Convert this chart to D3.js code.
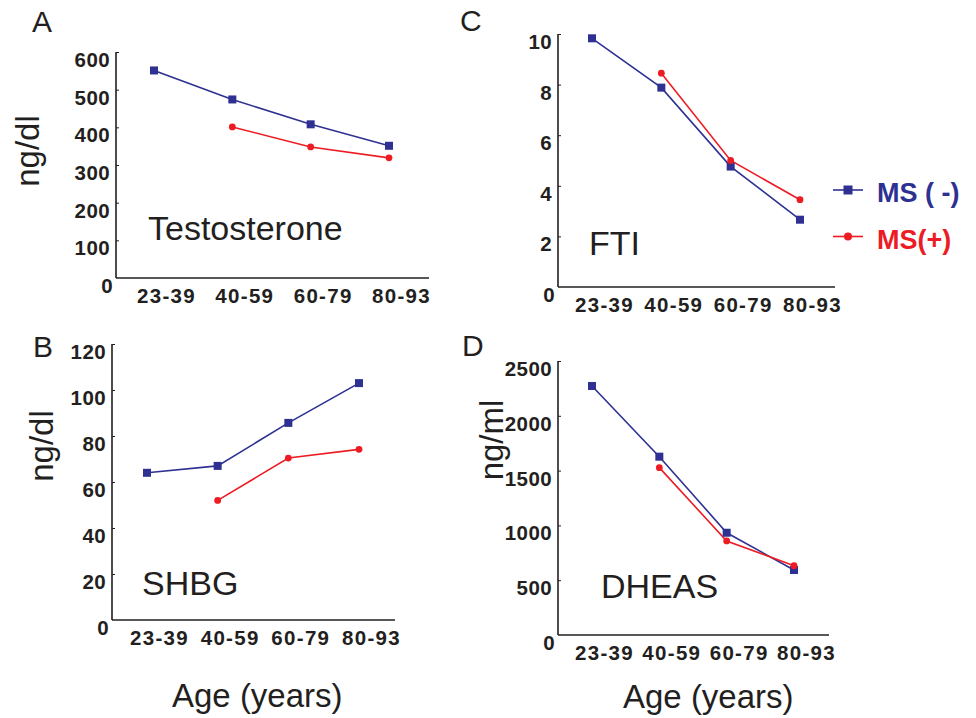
<!DOCTYPE html>
<html>
<head>
<meta charset="utf-8">
<script src="https://cdn.jsdelivr.net/npm/d3@7"></script>
<style>
  html, body { margin: 0; padding: 0; background: #ffffff; }
  svg { display: block; font-family: "Liberation Sans", Arial, Helvetica, sans-serif; }
</style>
</head>
<body>
<svg id="chart" width="976" height="718"></svg>
<script>
// ---- Data ----
const ageGroups = ["23-39", "40-59", "60-79", "80-93"];
const seriesNames = ["MS ( -)", "MS(+)"];

const testosteroneMSneg = [551, 474, 408, 351];
const testosteroneMSpos = [null, 401, 348, 319];
const testosteroneTicks = [0, 100, 200, 300, 400, 500, 600];

const shbgMSneg = [64, 67, 85.7, 103];
const shbgMSpos = [null, 52, 70.4, 74.2];
const shbgTicks = [0, 20, 40, 60, 80, 100, 120];

const ftiMSneg = [9.83, 7.88, 4.76, 2.66];
const ftiMSpos = [null, 8.45, 5.0, 3.45];
const ftiTicks = [0, 2, 4, 6, 8, 10];

const dheasMSneg = [2272, 1627, 933, 593];
const dheasMSpos = [null, 1527, 858, 632];
const dheasTicks = [0, 500, 1000, 1500, 2000, 2500];

// ---- Styles / layout ----
const BLUE = "#2e3192";
const RED = "#ed1c24";
const INK = "#231f20";

const panels = [
  { letter: "A", name: "Testosterone", unit: "ng/dl", neg: testosteroneMSneg, pos: testosteroneMSpos, ticks: testosteroneTicks,
    axisX: 116, top: 52, bottom: 278, right: 429, xFirst: 154, xLast: 389,
    letterPos: [32, 32], namePos: [148, 240], unitPos: [28, 151], age: null },
  { letter: "B", name: "SHBG", unit: "ng/dl", neg: shbgMSneg, pos: shbgMSpos, ticks: shbgTicks,
    axisX: 112, top: 344, bottom: 620, right: 395, xFirst: 147, xLast: 359,
    letterPos: [33, 357], namePos: [142, 595], unitPos: [42, 446], age: [172, 707] },
  { letter: "C", name: "FTI", unit: null, neg: ftiMSneg, pos: ftiMSpos, ticks: ftiTicks,
    axisX: 558, top: 34, bottom: 287, right: 835, xFirst: 592, xLast: 800,
    letterPos: [460, 31], namePos: [589, 255], unitPos: null, age: null },
  { letter: "D", name: "DHEAS", unit: "ng/ml", neg: dheasMSneg, pos: dheasMSpos, ticks: dheasTicks,
    axisX: 558, top: 361, bottom: 635, right: 829, xFirst: 592, xLast: 794,
    letterPos: [462, 356], namePos: [601, 598], unitPos: [492, 440], age: [623, 708] }
];

const svg = d3.select("#chart");

panels.forEach(p => {
  const g = svg.append("g");
  const y = d3.scaleLinear().domain([0, d3.max(p.ticks)]).range([p.bottom, p.top]);
  const x = d3.scalePoint().domain(ageGroups).range([p.xFirst, p.xLast]);

  // y axis: ticks pointing inward, labels drawn separately (shifted below tick)
  const yAxis = d3.axisRight(y).tickValues(p.ticks).tickSize(3).tickFormat("");
  const ya = g.append("g").attr("transform", `translate(${p.axisX},0)`).call(yAxis);
  ya.select(".domain").attr("stroke", INK).attr("stroke-width", 1.6).attr("d", `M0,${p.top}V${p.bottom}`);
  ya.selectAll(".tick line").attr("stroke", INK).attr("stroke-width", 1);
  ya.selectAll(".tick").filter(d => d === 0).remove();

  g.selectAll("text.ytl").data(p.ticks).join("text")
    .attr("class", "ytl")
    .attr("x", d => d === 0 ? p.axisX - 3 : p.axisX - 6)
    .attr("y", d => y(d) + 15)
    .attr("text-anchor", "end")
    .attr("font-size", 20.5).attr("font-weight", "bold").attr("fill", INK)
    .attr("letter-spacing", 0.4)
    .text(d => d);

  // x axis line
  const xAxis = d3.axisBottom(x).tickSize(0).tickFormat("");
  const xa = g.append("g").attr("transform", `translate(0,${p.bottom})`).call(xAxis);
  xa.select(".domain").attr("stroke", INK).attr("stroke-width", 1.6).attr("d", `M${p.axisX},0H${p.right}`);

  g.selectAll("text.xtl").data(ageGroups).join("text")
    .attr("class", "xtl")
    .attr("x", d => x(d) + 12.5)
    .attr("y", p.bottom + 25)
    .attr("text-anchor", "middle")
    .attr("font-size", 20.5).attr("font-weight", "bold").attr("fill", INK)
    .attr("letter-spacing", 1.3)
    .text(d => d);

  // lines
  const line = d3.line().defined(d => d.v != null).x(d => x(d.k)).y(d => y(d.v));
  const negData = ageGroups.map((k, i) => ({ k, v: p.neg[i] }));
  const posData = ageGroups.map((k, i) => ({ k, v: p.pos[i] }));

  g.append("path").datum(negData).attr("d", line)
    .attr("fill", "none").attr("stroke", BLUE).attr("stroke-width", 1.6);
  g.append("path").datum(posData).attr("d", line)
    .attr("fill", "none").attr("stroke", RED).attr("stroke-width", 1.6);

  g.selectAll("rect.mneg").data(negData.filter(d => d.v != null)).join("rect")
    .attr("class", "mneg")
    .attr("x", d => x(d.k) - 4).attr("y", d => y(d.v) - 4)
    .attr("width", 8).attr("height", 8).attr("fill", BLUE);
  g.selectAll("circle.mpos").data(posData.filter(d => d.v != null)).join("circle")
    .attr("class", "mpos")
    .attr("cx", d => x(d.k)).attr("cy", d => y(d.v))
    .attr("r", 3.4).attr("fill", RED);

  // texts
  g.append("text").attr("x", p.letterPos[0]).attr("y", p.letterPos[1])
    .attr("font-size", 30).attr("fill", INK).text(p.letter);
  g.append("text").attr("x", p.namePos[0]).attr("y", p.namePos[1])
    .attr("font-size", 34).attr("fill", INK).text(p.name);
  if (p.unit) {
    g.append("text")
      .attr("transform", `translate(${p.unitPos[0] + 11},${p.unitPos[1]}) rotate(-90)`)
      .attr("text-anchor", "middle")
      .attr("font-size", 33).attr("fill", INK).text(p.unit);
  }
  if (p.age) {
    g.append("text").attr("x", p.age[0]).attr("y", p.age[1])
      .attr("font-size", 33).attr("fill", INK).text("Age (years)");
  }
});

// legend
const legend = svg.append("g");
const legendRows = [
  { name: seriesNames[0], color: BLUE, shape: "square", y: 190, ty: 201.5 },
  { name: seriesNames[1], color: RED, shape: "circle", y: 236.5, ty: 248.5 }
];
legendRows.forEach(r => {
  legend.append("line").attr("x1", 833).attr("x2", 863).attr("y1", r.y).attr("y2", r.y)
    .attr("stroke", r.color).attr("stroke-width", 1.6);
  if (r.shape === "square") {
    legend.append("rect").attr("x", 848 - 4.5).attr("y", r.y - 4.5).attr("width", 9).attr("height", 9).attr("fill", r.color);
  } else {
    legend.append("circle").attr("cx", 848).attr("cy", r.y).attr("r", 4).attr("fill", r.color);
  }
  legend.append("text").attr("x", 877).attr("y", r.ty)
    .attr("font-size", 27).attr("font-weight", "bold").attr("fill", r.color).text(r.name);
});
</script>
</body>
</html>
